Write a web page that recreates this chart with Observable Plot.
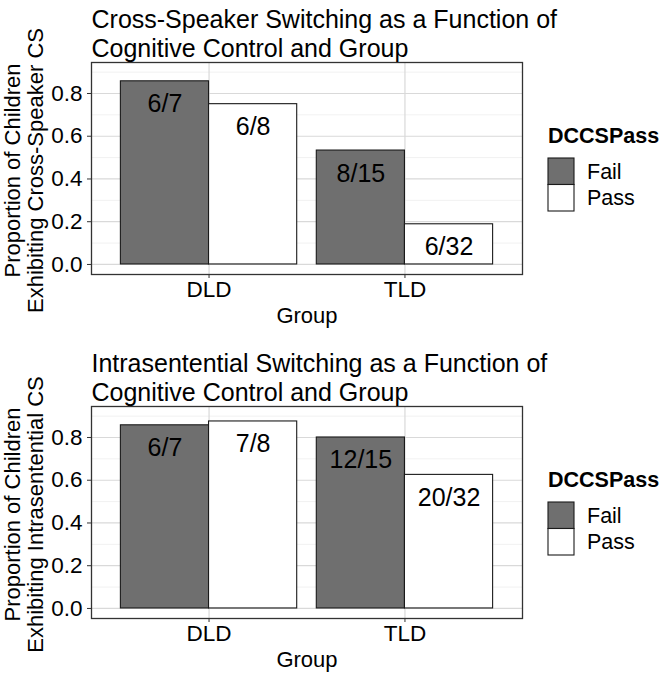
<!DOCTYPE html>
<html>
<head>
<meta charset="utf-8">
<script src="https://cdn.jsdelivr.net/npm/d3@7"></script>
<script src="https://cdn.jsdelivr.net/npm/@observablehq/plot@0.6"></script>
<style>
  html, body { margin: 0; padding: 0; background: #ffffff; }
  #chart svg { display: block; }
</style>
</head>
<body>
<div id="chart"></div>
<script>
// ---- data ----
const groups = ["DLD", "TLD"];
const passStatus = ["Fail", "Pass"];
const yTicks = [0.0, 0.2, 0.4, 0.6, 0.8];
const yMinorTicks = [0.1, 0.3, 0.5, 0.7, 0.9];

// order: DLD-Fail, DLD-Pass, TLD-Fail, TLD-Pass
const crossSpeakerValues = [0.857, 0.750, 0.533, 0.188];
const crossSpeakerLabels = ["6/7", "6/8", "8/15", "6/32"];
const intraValues = [0.857, 0.875, 0.800, 0.625];
const intraLabels = ["6/7", "7/8", "12/15", "20/32"];

const titles = [
  "Cross-Speaker Switching as a Function of\nCognitive Control and Group",
  "Intrasentential Switching as a Function of\nCognitive Control and Group"
];
const yLabels = [
  ["Proportion of Children", "Exhibiting Cross-Speaker CS"],
  ["Proportion of Children", "Exhibiting Intrasentential CS"]
];
const xLabel = "Group";
const legendTitle = "DCCSPass";

const FONT = "'Liberation Sans', Arial, Helvetica, sans-serif";
const fillColors = ["#6f6f6f", "#ffffff"];

function buildRows(values, labels) {
  const rows = [];
  groups.forEach((g, gi) => {
    passStatus.forEach((s, si) => {
      const k = gi * 2 + si;
      const center = gi + 1;
      const x1 = center - 0.45 + si * 0.45;
      rows.push({group: g, status: s, value: values[k], label: labels[k],
                 x1, x2: x1 + 0.45, xc: x1 + 0.225});
    });
  });
  return rows;
}

function panel(idx, values, labels, mt, mb) {
  const rows = buildRows(values, labels);
  const W = 664, H = 337;
  const plot = Plot.plot({
    width: W, height: H,
    marginLeft: 91, marginRight: 142, marginTop: mt, marginBottom: mb,
    style: {fontFamily: FONT, fontSize: "22px", color: "#000", background: "#fff", overflow: "visible"},
    x: {domain: [0.4, 2.6], axis: null},
    y: {domain: [-0.047, 0.945], axis: null},
    color: {domain: passStatus, range: fillColors},
    marks: [
      Plot.gridY(yMinorTicks, {stroke: "#ebebeb", strokeOpacity: 1, strokeWidth: 0.7}),
      Plot.gridY(yTicks, {stroke: "#d9d9d9", strokeOpacity: 1, strokeWidth: 1.2}),
      Plot.gridX([1, 2], {stroke: "#d9d9d9", strokeOpacity: 1, strokeWidth: 1.2}),
      Plot.rect(rows, {x1: "x1", x2: "x2", y1: 0, y2: "value", fill: "status",
                       stroke: "#1a1a1a", strokeWidth: 1.1}),
      Plot.text(rows, {x: "xc", y: "value", text: "label", dy: 23,
                       fontSize: 25, fill: "#000"}),
      Plot.frame({stroke: "#333333", strokeWidth: 1.3}),
      Plot.axisY(yTicks, {tickSize: 4, tickPadding: 5, tickFormat: d3.format(".1f"),
                          label: null, fontSize: 22.5, stroke: "#333", fill: "#000"}),
      Plot.axisX([1, 2], {tickSize: 4, tickPadding: 3, tickFormat: d => groups[d - 1],
                          label: null, fontSize: 22.5, stroke: "#333", fill: "#000"}),
      // x axis title
      Plot.text([xLabel], {frameAnchor: "bottom", dy: 48, text: d => d, fontSize: 22,
                           textAnchor: "middle", fill: "#000"}),
      // y axis titles (two lines)
      Plot.text([yLabels[idx][0]], {frameAnchor: "left", dx: -79, dy: 2, text: d => d, rotate: -90,
                                    textAnchor: "middle", fontSize: 22, fill: "#000"}),
      Plot.text([yLabels[idx][1]], {frameAnchor: "left", dx: -56, dy: 2, text: d => d, rotate: -90,
                                    textAnchor: "middle", fontSize: 22, fill: "#000"}),
      // plot title
      Plot.text([titles[idx]], {frameAnchor: "top-left", textAnchor: "start", lineAnchor: "bottom",
                                dy: -6, text: d => d, fontSize: 25, lineHeight: 1.13, fill: "#000"})
    ]
  });

  // legend (built from the plot's colour scale)
  const color = plot.scale("color");
  const svg = d3.select(plot);
  const cy = mt + (H - mt - mb) / 2;
  const lx = 548;
  const lg = svg.append("g").attr("font-family", FONT).attr("text-anchor", "start");
  lg.append("text").attr("x", lx).attr("y", cy - 25)
    .attr("font-size", 21.5).attr("font-weight", "bold").attr("fill", "#000").text(legendTitle);
  color.domain.forEach((s, i) => {
    const top = cy - 10 + i * 26.5;
    lg.append("rect").attr("x", lx).attr("y", top).attr("width", 26).attr("height", 26.5)
      .attr("fill", color.range[i]).attr("stroke", "#1a1a1a").attr("stroke-width", 1.1);
    lg.append("text").attr("x", lx + 39).attr("y", top + 13.25).attr("dy", "0.35em")
      .attr("font-size", 21.5).attr("fill", "#000").text(s);
  });
  return plot;
}

const root = document.getElementById("chart");
root.appendChild(panel(0, crossSpeakerValues, crossSpeakerLabels, 62, 63));
root.appendChild(panel(1, intraValues, intraLabels, 69, 56));
</script>
</body>
</html>
